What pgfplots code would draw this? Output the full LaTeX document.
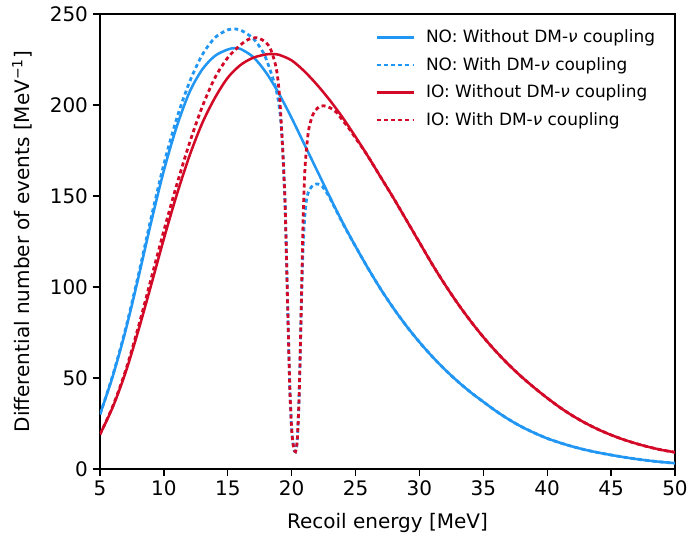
\documentclass[border=0pt]{standalone}
\usepackage{fontspec}
\setmainfont{DejaVu Sans}
\usepackage{pgfplots}
\pgfplotsset{compat=1.18}

\definecolor{noblue}{RGB}{33,150,243}
\definecolor{iored}{RGB}{210,10,40}

\begin{document}
\begin{tikzpicture}
\useasboundingbox (-75pt,-52.5pt) rectangle (440.25pt,351.75pt);
\begin{axis}[%
at={(0pt,0pt)}, anchor=south west,
width=431.25pt,
height=341.25pt,
scale only axis,
xmin=5, xmax=50,
ymin=0, ymax=250,
xtick={5,10,...,50},
ytick={0,50,...,250},
tick align=outside,
major tick length=5.5pt,
xtick pos=bottom, ytick pos=left,
every tick/.style={black, line width=1pt},
axis line style={line width=1.3pt},
tick label style={font=\fontsize{15}{18}\selectfont},
/pgf/number format/assume math mode=true,
xlabel={Recoil energy [MeV]},
ylabel={Differential number of events [MeV\textsuperscript{−1}]},
label style={font=\fontsize{15}{18}\selectfont},
xlabel style={at={(axis description cs:0.5,-0.1297)}, anchor=base},
ylabel style={at={(axis description cs:-0.1357,0.5)}, anchor=center},
legend style={draw=none, fill=none, at={(axis description cs:0.4713,0.977)}, anchor=north west,
  font=\fontsize{12.7}{15}\selectfont, row sep=5.5pt,
  /tikz/every odd column/.append style={column sep=6pt}},
legend cell align=left,
legend image code/.code={\draw[#1] (0pt,0pt) -- (28pt,0pt);},
]

% NO, without coupling
\addplot[smooth, color=noblue, line width=1.9pt] table {
5 30
6 51
7 76
8 105
9 135.5
10 164
11 188
12 207
13 219.5
14 227
15 230.5
15.5 231.2
16 230.8
17 226.3
18 217.8
19 206.3
20 192.8
21 178.3
22 163.8
23 149.3
24 135.3
25 122.3
26 110
27 98.5
28 88
29 78.4
30 69.7
31 61.8
32 54.6
33 48.1
34 42.2
35 36.9
36 31.8
37 27.2
38 23.2
39 19.8
40 16.8
41 14.4
42 12.3
43 10.5
44 9
45 7.7
46 6.5
47 5.45
48 4.55
49 3.8
50 3.2
};
\addlegendentry{NO: Without DM-{\itshape ν} coupling}

% NO, with coupling
\addplot[smooth, color=noblue, line width=2.1pt, dash pattern=on 3pt off 2.4pt] table {
5 30
6 51.5
7 77
8 106.5
9 138
10 167.5
11 192.5
12 212.5
13 227.5
14 237
15 241.3
15.6 241.8
16 241.2
17 236.5
17.8 228.5
18.3 219.5
18.8 208
19.1 195
19.3 176
19.5 142
19.7 86
19.85 46
20 22
20.15 12
20.3 9.5
20.45 17
20.6 44
20.75 88
20.9 122
21.05 141
21.2 149.5
21.4 153.5
21.7 156
22.05 156.6
22.4 155.2
22.9 150
23.5 141.8
24 135
24.5 128.5
25 122.3
26 110
27 98.5
28 88
29 78.4
30 69.7
31 61.8
32 54.6
33 48.1
34 42.2
35 36.9
36 31.8
37 27.2
38 23.2
39 19.8
40 16.8
41 14.4
42 12.3
43 10.5
44 9
45 7.7
46 6.5
47 5.45
48 4.55
49 3.8
50 3.2
};
\addlegendentry{NO: With DM-{\itshape ν} coupling}

% IO, without coupling
\addplot[smooth, color=iored, line width=1.9pt] table {
5 19
6 34
7 53
8 76
9 101
10 126.5
11 150.5
12 172
13 190
14 204
15 215
16 222
17 226
18 227.8
18.5 228
19 227.6
20 224.5
21 218.5
22 211
23 202.5
24 193
25 182.5
26 171.5
27 160
28 148.5
29 136.5
30 124.5
31 112.5
32 101.3
33 90.9
34 81.3
35 72.5
36 64.5
37 57.2
38 50.6
39 44.6
40 39
41 33.8
42 29.2
43 25.2
44 21.7
45 18.7
46 16.1
47 13.9
48 12
49 10.4
50 9.2
};
\addlegendentry{IO: Without DM-{\itshape ν} coupling}

% IO, with coupling
\addplot[smooth, color=iored, line width=2.1pt, dash pattern=on 3pt off 2.4pt] table {
5 19
6 34.5
7 54
8 78
9 104.5
10 131
11 156
12 179
13 199
14 215
15 226
16 233
16.6 236
17.2 237
17.7 235.8
18.3 231.5
18.8 220
19.05 205
19.2 188
19.35 168
19.5 142
19.7 86
19.85 46
20 22
20.15 12
20.3 9.5
20.45 17
20.6 44
20.75 88
20.9 138
21.05 166
21.3 185
21.55 192.5
21.8 196.5
22.2 199.3
22.5 199.6
23 198.5
23.5 196
24 191.5
24.5 187
25 181.8
25.5 176.8
26 171.5
27 160
28 148.5
29 136.5
30 124.5
31 112.5
32 101.3
33 90.9
34 81.3
35 72.5
36 64.5
37 57.2
38 50.6
39 44.6
40 39
41 33.8
42 29.2
43 25.2
44 21.7
45 18.7
46 16.1
47 13.9
48 12
49 10.4
50 9.2
};
\addlegendentry{IO: With DM-{\itshape ν} coupling}

\end{axis}
\end{tikzpicture}
\end{document}
